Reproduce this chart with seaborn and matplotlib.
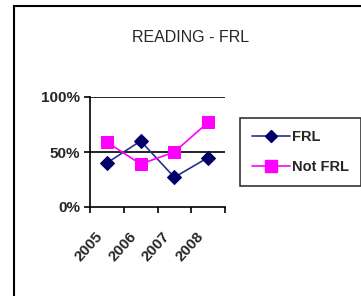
import matplotlib
matplotlib.use("Agg")
import matplotlib.pyplot as plt
import matplotlib.transforms as mtransforms
from matplotlib.patches import Rectangle
import pandas as pd
import seaborn as sns

sns.set_theme(style="white")
plt.rcParams["font.family"] = ["Liberation Sans", "DejaVu Sans"]

years = ["2005", "2006", "2007", "2008"]
frl = [0.40, 0.60, 0.27, 0.45]
not_frl = [0.59, 0.39, 0.50, 0.77]
series_names = ["FRL", "Not FRL"]

df = pd.DataFrame({
    "year": years * 2,
    "value": frl + not_frl,
    "group": [series_names[0]] * len(years) + [series_names[1]] * len(years),
})

fig = plt.figure(figsize=(3.61, 2.96), dpi=100)
fig.patch.set_facecolor("white")
ax = fig.add_axes([90 / 361, 1 - 207 / 296, 135 / 361, 110 / 296])

sns.lineplot(
    data=df, x="year", y="value", hue="group", style="group",
    markers={"FRL": "D", "Not FRL": "s"}, dashes=False,
    palette={"FRL": "#2e2e8a", "Not FRL": "#ff00ff"},
    markersize=7, linewidth=1.2, ax=ax, legend=False,
)
# darker navy markers for FRL
for line in ax.lines:
    if line.get_color() == "#2e2e8a":
        line.set_markerfacecolor("#000066")
        line.set_markeredgecolor("#000066")
    else:
        line.set_markerfacecolor("#ff00ff")
        line.set_markeredgecolor("#ff00ff")
        line.set_markersize(8)

ax.set_xlim(-0.5, 3.5)
ax.set_ylim(0, 1)
ax.set_yticks([0, 0.5, 1.0])
ax.set_yticklabels(["0%", "50%", "100%"], fontsize=11, fontweight="bold")
ax.set_xticks(range(len(years)))
ax.set_xticklabels(years, rotation=48, ha="right", rotation_mode="anchor",
                   fontsize=11, fontweight="bold")
ax.set_xticks([-0.5, 0.5, 1.5, 2.5, 3.5], minor=True)
ax.tick_params(axis="x", which="major", length=0, pad=16)
ax.tick_params(axis="x", which="minor", length=4, width=1.2, color="black",
               direction="out", bottom=True)
ax.tick_params(axis="y", length=4, width=1.2, color="black", direction="out",
               left=True, pad=3)
shift = mtransforms.ScaledTranslation(-12 / 100, 0, fig.dpi_scale_trans)
for lbl in ax.get_xticklabels():
    lbl.set_transform(lbl.get_transform() + shift)
ax.set_xlabel("")
ax.set_ylabel("")
for side in ["top", "right"]:
    ax.spines[side].set_visible(False)
for side in ["left", "bottom"]:
    ax.spines[side].set_color("black")
    ax.spines[side].set_linewidth(1.2)
for yv in [0.5, 1.0]:
    ax.axhline(yv, color="black", linewidth=1.2, zorder=0)

handles = [
    plt.Line2D([], [], color="#2e2e8a", marker="D", markersize=6,
               markerfacecolor="#000066", markeredgecolor="#000066", linewidth=1.2),
    plt.Line2D([], [], color="#ff00ff", marker="s", markersize=8, linewidth=1.2),
]
leg = fig.legend(handles, series_names, loc="upper left",
                 bbox_to_anchor=(240 / 361, 1 - 118 / 296),
                 prop={"size": 10.5, "weight": "bold"}, frameon=True,
                 fancybox=False, edgecolor="black", handlelength=2.6,
                 handletextpad=0.1, borderpad=0.85, labelspacing=1.05,
                 borderaxespad=0)
leg.get_frame().set_linewidth(1.2)

fig.text(191 / 361, 1 - 38 / 296, "READING - FRL", ha="center", va="center",
         fontsize=11.5)

fig.patches.append(Rectangle((14 / 361, -0.1), 1.0, 1 - 6 / 296 + 0.1,
                             transform=fig.transFigure, fill=False,
                             edgecolor="black", linewidth=1.5))

fig.savefig("out.png", dpi=100)
